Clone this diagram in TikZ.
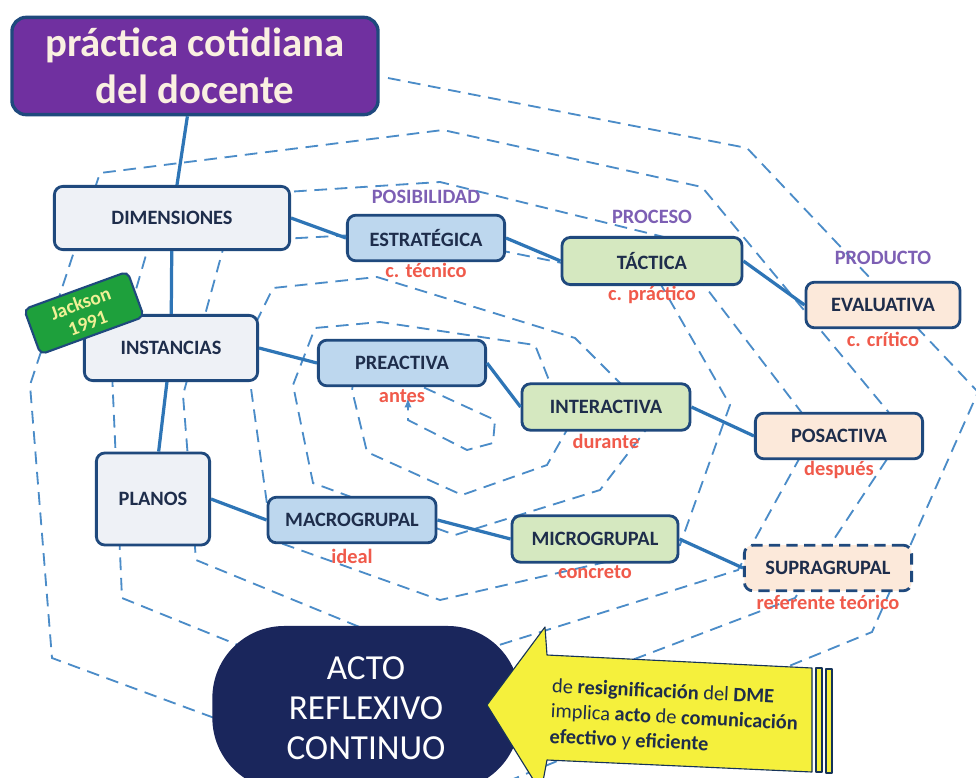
\documentclass[tikz,border=0pt]{standalone}
\usepackage{fontspec}
\setmainfont{Carlito}
\usetikzlibrary{positioning}

\definecolor{linea}{RGB}{31,73,125}
\definecolor{conect}{RGB}{46,117,182}
\definecolor{espiralc}{RGB}{75,140,200}
\definecolor{grisf}{RGB}{238,241,246}
\definecolor{azulf}{RGB}{189,215,238}
\definecolor{verdef}{RGB}{213,232,192}
\definecolor{melonf}{RGB}{252,233,218}
\definecolor{titf}{RGB}{112,48,160}
\definecolor{titt}{RGB}{250,240,225}
\definecolor{jackf}{RGB}{30,160,60}
\definecolor{jackt}{RGB}{240,240,150}
\definecolor{actof}{RGB}{26,38,92}
\definecolor{amarillo}{RGB}{245,240,60}
\definecolor{rojot}{RGB}{240,90,75}
\definecolor{moradot}{RGB}{125,95,180}
\definecolor{texto}{RGB}{30,45,75}

\begin{document}
\begin{tikzpicture}[x=0.025cm,y=-0.025cm]
		\tikzstyle{caja}=[draw=linea,line width=2pt,rounded corners=6pt,text=texto,font=\fontsize{14.5}{17}\selectfont\bfseries,inner sep=2pt]
		\tikzstyle{gris}=[caja,fill=grisf]
		\tikzstyle{azul}=[caja,fill=azulf,minimum width=4.2cm,minimum height=1.14cm]
		\tikzstyle{verde}=[caja,fill=verdef,minimum width=4.2cm,minimum height=1.16cm]
		\tikzstyle{melon}=[caja,fill=melonf,minimum width=4.2cm,minimum height=1.14cm]
		\tikzstyle{rojo}=[text=rojot,font=\fontsize{14.5}{17}\selectfont\bfseries]
		\tikzstyle{morado}=[text=moradot,font=\fontsize{14.5}{17}\selectfont\bfseries]
		\tikzstyle{conn}=[draw=conect,line width=2.3pt]
		\tikzstyle{espiral}=[draw=espiralc,line width=1.3pt,dash pattern=on 9pt off 5.5pt]
		\tikzstyle{flecha}=[fill=amarillo,draw=linea!70!black,line width=0.8pt,line join=round]

		\fill[white] (0,0) rectangle (976,778);
		\useasboundingbox (0,0) rectangle (976,778);

		% espiral de fondo
		\draw[espiral,-latex] (388,78) -- (747,148) -- (978,392) -- (872,632) -- (450,805) -- (52,658) -- (30,385) -- (100,173)
		  -- (443,130) -- (702,187) -- (905,432) -- (795,598) -- (448,730) -- (122,598) -- (112,372) -- (162,200)
		  -- (440,182) -- (668,238) -- (815,430) -- (738,570) -- (445,662) -- (196,560) -- (183,395) -- (225,242)
		  -- (410,232) -- (660,283) -- (730,405) -- (680,545) -- (440,600) -- (272,540) -- (245,345) -- (273,288)
		  -- (377,277) -- (575,338) -- (655,418) -- (600,490) -- (455,535) -- (313,483) -- (293,385) -- (315,328)
		  -- (380,322) -- (535,345) -- (568,428) -- (547,465) -- (462,495) -- (367,452) -- (352,390) -- (360,345)
		  -- (425,388) -- (495,420) -- (493,443) -- (467,450) -- (408,420) -- (408,398);

		\node[draw=linea,line width=2.4pt,fill=titf,rounded corners=10pt,minimum width=9.15cm,minimum height=2.43cm,
		  text=titt,align=center,font=\fontsize{29}{33.5}\selectfont\bfseries](tit) at (195,66){práctica cotidiana\\del docente};

		\node[gris,minimum width=5.88cm,minimum height=1.58cm](dim) at (172,218){DIMENSIONES};
		\node[gris,minimum width=4.33cm,minimum height=1.63cm](inst) at (171,348){INSTANCIAS};
		\node[gris,minimum width=2.83cm,minimum height=2.3cm](plan) at (153,499){PLANOS};

		\node[azul,minimum width=3.93cm](estr) at (426,238){ESTRATÉGICA};
		\node[verde,minimum width=4.5cm,minimum height=1.18cm](tact) at (652,261){TÁCTICA};
		\node[melon,minimum width=3.85cm](eval) at (883,305){EVALUATIVA};

		\node[azul,minimum width=4.18cm](prea) at (402,363){PREACTIVA};
		\node[verde](inter) at (606,407){INTERACTIVA};
		\node[melon,minimum width=4.18cm](posa) at (839,436){POSACTIVA};

		\node[azul](macro) at (352,520){MACROGRUPAL};
		\node[verde,minimum width=4.15cm](micro) at (595,539){MICROGRUPAL};
		\node[melon,minimum width=4.18cm,dash pattern=on 8pt off 4.5pt](supra) at (828,568){SUPRAGRUPAL};

		\node[draw=linea,line width=1.5pt,fill=jackf,rounded corners=4pt,rotate=20,minimum width=2.75cm,minimum height=1.2cm,
		  text=jackt,align=center,font=\fontsize{14}{15}\selectfont\bfseries](jack) at (84,313){Jackson\\1991};

		\foreach \a/\b in {tit/dim,dim/inst,inst/plan}
		{
		  \draw[conn] (\a) -- (\b);
		}
		\foreach \a/\b in {dim/estr,estr/tact,tact/eval,inst/prea,prea/inter,inter/posa,plan/macro,macro/micro,micro/supra}
		{
		  \draw[conn] (\a.east) -- (\b.west);
		}

		\node[morado, above of=estr, node distance=1.03cm](posib){POSIBILIDAD};
		\node[morado, above of=tact, node distance=1.1cm](proc){PROCESO};
		\node[morado, above of=eval, node distance=1.18cm](prod){PRODUCTO};

		\node[rojo, below of=estr, node distance=0.82cm](tec){c. técnico};
		\node[rojo, below of=tact, node distance=0.85cm](prac){c. práctico};
		\node[rojo, below of=eval, node distance=0.87cm](crit){c. crítico};
		\node[rojo, below of=prea, node distance=0.83cm](antes){antes};
		\node[rojo, below of=inter, node distance=0.85cm](dur){durante};
		\node[rojo, below of=posa, node distance=0.85cm](desp){después};
		\node[rojo, below of=macro, node distance=0.9cm](ideal){ideal};
		\node[rojo, below of=micro, node distance=0.83cm](conc){concreto};
		\node[rojo, below of=supra, node distance=0.87cm](refe){referente teórico};

		\node[fill=actof,rounded corners=1.8cm,minimum width=7.68cm,minimum height=4.1cm,text=white,align=center,
		  font=\fontsize{25}{28.5}\selectfont](acto) at (366,708){ACTO\\REFLEXIVO\\CONTINUO};

		\draw[flecha] (487,705) -- (545,627) -- (547,655) -- (812,668) -- (812,772) -- (547,760) -- (541,792) -- cycle;
		\draw[flecha] (816,668) -- (822,668) -- (822,772) -- (816,772) -- cycle;
		\draw[flecha] (826,669) -- (832,669) -- (832,773) -- (826,773) -- cycle;
		\node[anchor=west,rotate=-2.8,align=left,text=texto,font=\fontsize{14.5}{18}\selectfont](nota) at (546,712)
		  {de \textbf{resignificación} del \textbf{DME}\\implica \textbf{acto} de \textbf{comunicación}\\\textbf{efectivo} y \textbf{eficiente}};

        \end{tikzpicture}
\end{document}
